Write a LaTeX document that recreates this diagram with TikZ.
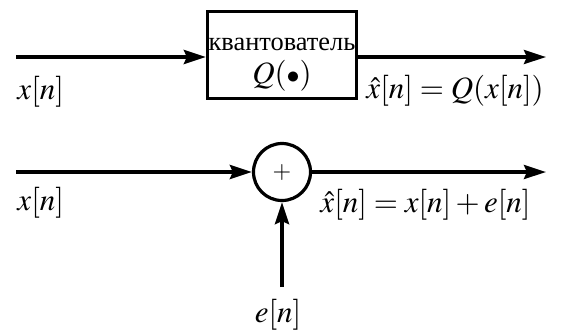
\documentclass[tikz,border=0pt]{standalone}
\usepackage{mathptmx}
\usepackage{fontspec}
\setmainfont{Liberation Serif}
\usetikzlibrary{arrows.meta}
\begin{document}
\begin{tikzpicture}[x=0.5pt,y=-0.5pt,
  sig/.style={line width=1.8pt,-{Stealth[length=11pt,width=7pt,inset=1.5pt]}},
  qbox/.style={draw,line width=1.6pt,minimum width=74.5pt,minimum height=43.5pt,inner sep=0pt,align=center},
  sumnode/.style={draw,circle,line width=1.6pt,minimum size=28.5pt,inner sep=0pt},
  lbl/.style={anchor=base west,inner sep=0pt,font=\fontsize{15.5}{18}\selectfont}]
\useasboundingbox (0,0) rectangle (563,329);
% top: quantizer
\node[qbox] (q) at (282,55) {{\fontsize{13.2}{15}\selectfont\rule{0pt}{15.5pt}квантователь}\\[4.5pt]
  {\fontsize{15.5}{18}\selectfont $Q(\mbox{\fontsize{13}{15}\selectfont$\bullet$})$}};
\coordinate (in1) at (16,57);
\coordinate (out1) at (546,57);
\draw[sig] (in1) -- (in1 -| q.west);
\draw[sig] (q.east |- in1) -- (out1);
\node[lbl] (xin1) at (17,99) {$x[n]$};
\node[lbl] (xout1) at (366,98) {$\hat{x}[n] = Q(x[n])$};
% bottom: additive noise model
\node[sumnode] (s) at (282,172) {\fontsize{12}{14}\selectfont$+$};
\coordinate (in2) at (16,172);
\coordinate (out2) at (546,172);
\coordinate (ein) at (282,287);
\draw[sig] (in2) -- (s.west);
\draw[sig] (s.east) -- (out2);
\draw[sig] (ein) -- (s.south);
\node[lbl] (xin2) at (17,210) {$x[n]$};
\node[lbl] (xout2) at (320,212) {$\hat{x}[n] = x[n] + e[n]$};
\node[lbl,anchor=base] (elbl) at (278,322) {$e[n]$};
\end{tikzpicture}
\end{document}
